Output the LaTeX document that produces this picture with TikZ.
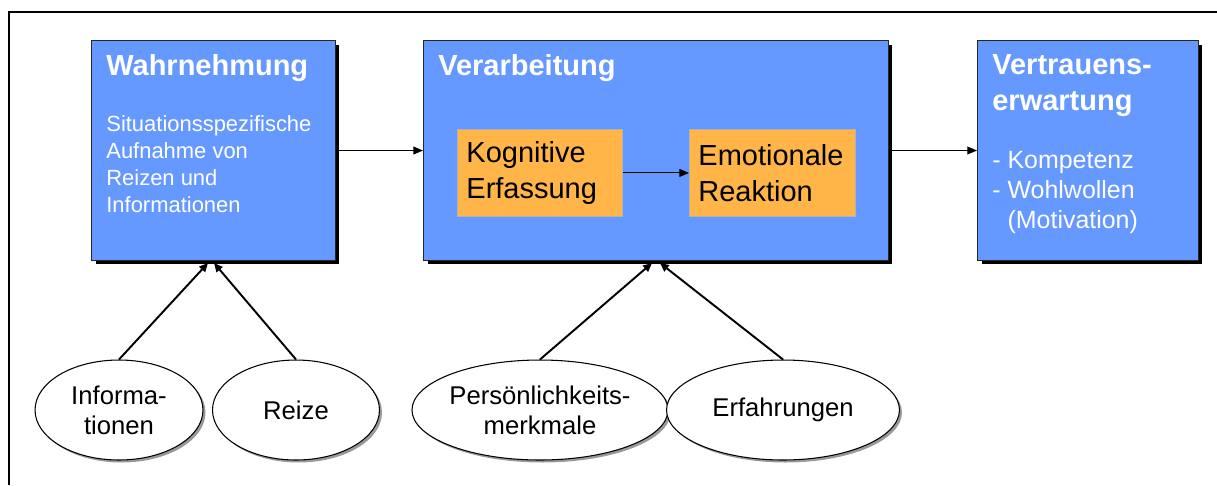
\documentclass[tikz,border=0pt]{standalone}
\usepackage{fontspec}
\setmainfont{Liberation Sans}
\usetikzlibrary{shapes.geometric,arrows.meta,positioning,shadows}
\definecolor{boxblue}{HTML}{6699FF}
\definecolor{boxorange}{HTML}{FFB547}

\begin{document}
\begin{tikzpicture}[
  x=0.02cm,
  y=-0.02cm,
  stage/.style={rectangle, draw=black!85, line width=0.6pt, fill=boxblue, anchor=north west, inner sep=0pt, minimum height=4.4cm,
    drop shadow={shadow xshift=0.08cm, shadow yshift=-0.08cm, fill=black, opacity=1}},
  step2/.style={rectangle, draw=black!30, line width=0.5pt, fill=boxorange, anchor=north west, inner sep=0pt, inner xsep=0.18cm,
    minimum height=1.74cm, align=left, font=\fontsize{16.5pt}{20.5pt}\selectfont},
  factor/.style={ellipse, draw=black, line width=0.6pt, fill=white, inner sep=0pt, minimum height=2cm, align=center,
    font=\fontsize{14.6pt}{17pt}\selectfont,
    drop shadow={shadow xshift=0.05cm, shadow yshift=-0.05cm, fill=black!40, opacity=1}},
  title/.style={anchor=base west, inner sep=0pt, text=white, align=left, font=\fontsize{16.5pt}{20pt}\selectfont\bfseries},
  body/.style={anchor=base west, inner sep=0pt, text=white, align=left},
  flow/.style={-{Triangle[length=5.5pt,width=4.5pt]}, line width=0.6pt},
  feed/.style={-{Triangle[length=5pt,width=4.5pt]}, line width=1.1pt}
]
\useasboundingbox (0,0) rectangle (1217,485);
\draw[line width=1pt] (9,485) |- (1217,12);

\node[stage, minimum width=4.88cm] (wahr) at (91,40) {};
\node[stage, minimum width=9.3cm] (verarb) at (423,40) {};
\node[stage, minimum width=4.42cm] (vertr) at (977,40) {};

\node[title] (wahrT) at (106,75) {Wahrnehmung};
\node[body, font=\fontsize{12.5pt}{15.2pt}\selectfont] (wahrB) at (106,212) {Situationsspezifische\\Aufnahme von\\Reizen und\\Informationen};
\node[title] (verarbT) at (438,75) {Verarbeitung};
\node[title] (vertrT) at (992,110) {Vertrauens-\\erwartung};
\node[body, font=\fontsize{14.2pt}{17pt}\selectfont] (vertrB) at (992,228) {- Kompetenz\\- Wohlwollen\\\phantom{- }(Motivation)};

\node[step2, text width=2.94cm] (kog) at (457,129) {Kognitive\\Erfassung};
\node[step2, text width=2.96cm] (emo) at (689,129) {Emotionale\\Reaktion};

\node[factor, minimum width=3.36cm] (info) at (119,410) {Informa-\\tionen};
\node[factor, minimum width=3.34cm] (reize) at (296,410) {Reize};
\node[factor, minimum width=4.68cm] (pers) at (540,410) {Persönlichkeits-\\merkmale};
\node[factor, minimum width=4.66cm] (erf) at (783,410) {Erfahrungen};

\coordinate (wahrL) at (208,263);
\coordinate (wahrR) at (214,263);
\coordinate (verarbL) at (652,263);
\coordinate (verarbR) at (660,263);

\draw[flow] (wahr) -- (verarb);
\draw[flow] (verarb) -- (vertr);
\draw[flow] (kog) -- (emo);
\draw[feed] (info.north) -- (wahrL);
\draw[feed] (reize.north) -- (wahrR);
\draw[feed] (pers.north) -- (verarbL);
\draw[feed] (erf.north) -- (verarbR);
\end{tikzpicture}
\end{document}
